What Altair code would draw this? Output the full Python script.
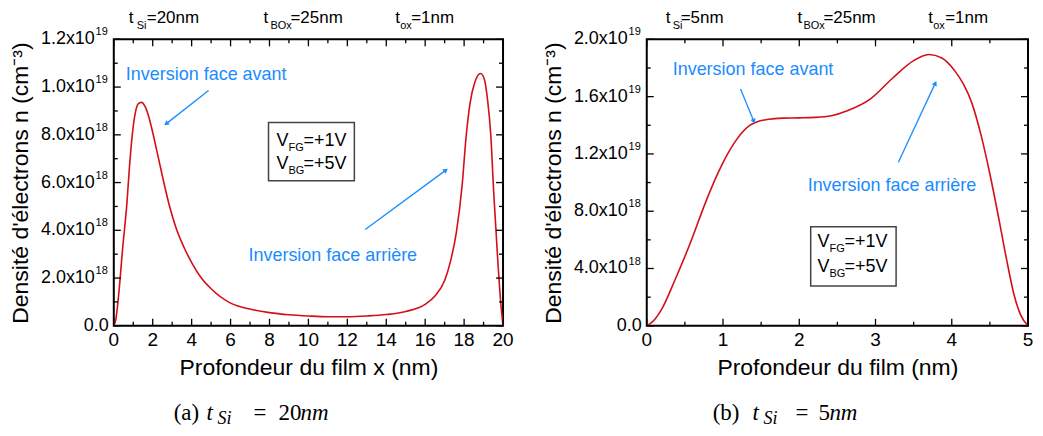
import altair as alt
import pandas as pd

# ---------------- data (n in units of 1e18 cm^-3) ----------------
# Panel (a): t_Si = 20 nm
x_a = [0, 0.1, 0.25, 0.45, 0.68, 0.8, 0.95, 1.1, 1.25, 1.42, 1.6, 1.8, 2.0, 2.3, 2.6,
       2.9, 3.2, 3.6, 4.0, 4.5, 5.0, 6.0, 7.0, 8.0, 9.0, 10.0, 11.0, 12.0, 13.0, 14.0,
       15.0, 16.0, 16.5, 17.0, 17.3, 17.6, 17.9, 18.1, 18.3, 18.55, 18.85, 19.05,
       19.2, 19.37, 19.52, 19.74, 19.9, 20]
n_a = [0, 0.25, 1.3, 3.2, 5.2, 6.6, 8.0, 8.9, 9.3, 9.36, 9.2, 8.75, 8.1, 7.0, 5.9,
       4.9, 4.1, 3.3, 2.65, 2.0, 1.55, 0.95, 0.7, 0.55, 0.46, 0.41, 0.38, 0.38, 0.41, 0.47,
       0.6, 0.9, 1.25, 1.9, 2.7, 3.9, 5.9, 7.9, 9.3, 10.2, 10.57, 10.3,
       9.5, 8.0, 5.6, 2.6, 0.8, 0]

# Panel (b): t_Si = 5 nm
x_b = [0, 0.07, 0.2, 0.37, 0.58, 0.77, 0.92, 1.05, 1.14, 1.25, 1.35, 1.45, 1.6, 1.78,
       2.0, 2.2, 2.42, 2.63, 2.93, 3.23, 3.49, 3.70, 3.87, 4.04, 4.15, 4.26, 4.38, 4.5,
       4.62, 4.72, 4.82, 4.9, 5.0]
n_b = [0, 0.25, 1.2, 3.2, 5.9, 8.6, 10.5, 11.9, 12.7, 13.5, 14.0, 14.25, 14.42, 14.5,
       14.52, 14.55, 14.67, 15.02, 15.83, 17.32, 18.48, 18.94, 18.7, 17.8, 16.9, 15.6,
       13.4, 10.6, 7.4, 4.6, 2.1, 0.8, 0]

# ticks and tick labels
xt_major_a = [0, 2, 4, 6, 8, 10, 12, 14, 16, 18, 20]
xlab_a = ["0", "2", "4", "6", "8", "10", "12", "14", "16", "18", "20"]
xt_minor_a = [1, 3, 5, 7, 9, 11, 13, 15, 17, 19]
yt_major_a = [0, 2, 4, 6, 8, 10, 12]
yt_minor_a = [1, 3, 5, 7, 9, 11]
ylab_main_a = ["0.0", "2.0x10", "4.0x10", "6.0x10", "8.0x10", "1.0x10", "1.2x10"]
ylab_exp_a = ["", "18", "18", "18", "18", "19", "19"]

xt_major_b = [0, 1, 2, 3, 4, 5]
xlab_b = ["0", "1", "2", "3", "4", "5"]
xt_minor_b = [0.5, 1.5, 2.5, 3.5, 4.5]
yt_major_b = [0, 4, 8, 12, 16, 20]
yt_minor_b = [2, 6, 10, 14, 18]
ylab_main_b = ["0.0", "4.0x10", "8.0x10", "1.2x10", "1.6x10", "2.0x10"]
ylab_exp_b = ["", "18", "18", "19", "19", "19"]

# ---------------- styling ----------------
FONT = "Liberation Sans"
SERIF = "Liberation Serif"
RED = "#d40f1a"
BLUE = "#1a8cff"
DUMMY = pd.DataFrame({"d": [0]})
H = 287


def txt(x, y, s, size, dx=0, dy=0, color="black", font=FONT, style="normal",
        align="left", baseline="alphabetic"):
    return alt.Chart(DUMMY).mark_text(
        text=s, fontSize=size, dx=dx, dy=dy, color=color, font=font,
        fontStyle=style, align=align, baseline=baseline
    ).encode(x=x, y=y)


def make_axes(xtitle):
    ax = alt.Axis(labels=False, ticks=False, tickSize=0, domain=False, grid=False,
                  title=xtitle, titleFontSize=23, titleFont=FONT,
                  titleFontWeight="normal", titleColor="black", titlePadding=31)
    ay = alt.Axis(labels=False, ticks=False, tickSize=0, domain=False, grid=False,
                  title="Densité d'électrons n (cm⁻³)", titleFontSize=23,
                  titleFont=FONT, titleFontWeight="normal", titleColor="black",
                  titlePadding=81)
    return ax, ay


def ticks(xmaj, xmin, ymaj, ymin, W, ax, ay):
    layers = []
    for vals, L in ((xmaj, 7), (xmin, 4)):
        c = alt.Chart(pd.DataFrame({"x": vals})).mark_rule(color="black", strokeWidth=1.3)
        layers.append(c.encode(x=alt.X("x:Q", axis=ax), y=alt.value(H), y2=alt.value(H - L)))
        layers.append(c.encode(x=alt.X("x:Q", axis=ax), y=alt.value(0), y2=alt.value(L)))
    for vals, L in ((ymaj, 7), (ymin, 4)):
        c = alt.Chart(pd.DataFrame({"n": vals})).mark_rule(color="black", strokeWidth=1.3)
        layers.append(c.encode(y=alt.Y("n:Q", axis=ay), x=alt.value(0), x2=alt.value(L)))
        layers.append(c.encode(y=alt.Y("n:Q", axis=ay), x=alt.value(W), x2=alt.value(W - L)))
    return layers


def xlabels(xmaj, labs, ax):
    df = pd.DataFrame({"x": xmaj, "lab": labs})
    return [alt.Chart(df).mark_text(
        align="center", baseline="top", fontSize=19, font=FONT, color="black"
    ).encode(x=alt.X("x:Q", axis=ax), y=alt.value(H + 5), text="lab:N")]


def ylabels(ymaj, mains, exps, ay):
    df = pd.DataFrame({"n": ymaj, "main": mains, "exp": exps})
    base = alt.Chart(df)
    yy = alt.Y("n:Q", axis=ay)
    m = base.transform_filter("datum.exp != ''").mark_text(
        align="right", baseline="middle", fontSize=18, font=FONT, color="black"
    ).encode(y=yy, x=alt.value(-19), text="main:N")
    e = base.transform_filter("datum.exp != ''").mark_text(
        align="right", baseline="middle", fontSize=11, font=FONT, color="black", dy=-7
    ).encode(y=yy, x=alt.value(-6), text="exp:N")
    z = base.transform_filter("datum.exp == ''").mark_text(
        align="right", baseline="middle", fontSize=18, font=FONT, color="black"
    ).encode(y=yy, x=alt.value(-5), text="main:N")
    return [m, e, z]


def arrow(x1, y1, x2, y2, ang):
    r = alt.Chart(DUMMY).mark_rule(color=BLUE, strokeWidth=1.3).encode(
        x=alt.datum(x1), y=alt.datum(y1), x2=alt.datum(x2), y2=alt.datum(y2))
    p = alt.Chart(DUMMY).mark_point(shape="triangle", filled=True, size=30,
                                    angle=ang, color=BLUE, opacity=1).encode(
        x=alt.datum(x2), y=alt.datum(y2))
    return [r, p]


def vbox(x1, x2, ytop, ybot, xv, yl1, yl2):
    rect = alt.Chart(DUMMY).mark_rect(fill="white", stroke="#444444", strokeWidth=1.5).encode(
        x=alt.datum(x1), x2=alt.datum(x2), y=alt.datum(ytop), y2=alt.datum(ybot))
    out = [rect]
    for yl, sub, rest in ((yl1, "FG", "=+1V"), (yl2, "BG", "=+5V")):
        out.append(txt(alt.datum(xv), alt.datum(yl), "V", 18))
        out.append(txt(alt.datum(xv), alt.datum(yl), sub, 11, dx=12, dy=5))
        out.append(txt(alt.datum(xv), alt.datum(yl), rest, 18, dx=27))
    return out


def top_labels(pieces):
    out = []
    for (xt, sub, xs, rest, xr) in pieces:
        out.append(txt(alt.value(xt), alt.value(-16), "t", 17))
        out.append(txt(alt.value(xs), alt.value(-10), sub, 11))
        out.append(txt(alt.value(xr), alt.value(-16), rest, 17))
    return out


def caption(letter, xl, xt, xs, xe, num, xn, xm):
    y = H + 94
    return [
        txt(alt.value(xl), alt.value(y), letter, 23, font=SERIF),
        txt(alt.value(xt), alt.value(y), "t", 23, font=SERIF, style="italic"),
        txt(alt.value(xs), alt.value(y + 4), "Si", 18, font=SERIF, style="italic"),
        txt(alt.value(xe), alt.value(y), "=", 23, font=SERIF),
        txt(alt.value(xn), alt.value(y), num, 23, font=SERIF),
        txt(alt.value(xm), alt.value(y), "nm", 23, font=SERIF, style="italic"),
    ]


def panel(xs, ns, xdom, ydom, W, xmaj, xlabs, xmin, ymaj, ymin, mains, exps, xtitle, extra):
    ax, ay = make_axes(xtitle)
    df = pd.DataFrame({"x": xs, "n": ns})
    curve = alt.Chart(df).mark_line(color=RED, strokeWidth=1.6, interpolate="monotone").encode(
        x=alt.X("x:Q", scale=alt.Scale(domain=xdom, nice=False, zero=False), axis=ax),
        y=alt.Y("n:Q", scale=alt.Scale(domain=ydom, nice=False), axis=ay),
    )
    layers = ([curve] + ticks(xmaj, xmin, ymaj, ymin, W, ax, ay)
              + xlabels(xmaj, xlabs, ax) + ylabels(ymaj, mains, exps, ay) + extra)
    return alt.layer(*layers).properties(width=W, height=H)


extra_a = (
    vbox(7.95, 12.36, 8.52, 6.08, 8.36, 7.55, 6.55)
    + [txt(alt.datum(0.62), alt.datum(10.28), "Inversion face avant", 18, color=BLUE),
       txt(alt.datum(6.92), alt.datum(2.73), "Inversion face arrière", 18, color=BLUE)]
    + arrow(4.87, 9.86, 2.72, 8.48, 231.8)
    + arrow(12.92, 4.03, 17.03, 6.50, 53.6)
    + top_labels([(15, "Si", 23, "=20nm", 33), (150, "BOx", 157, "=25nm", 177),
                  (282, "ox", 287, "=1nm", 298)])
    + caption("(a)", 60, 93, 104, 140, "20", 165, 187)
)

extra_b = (
    vbox(2.15, 3.27, 6.92, 2.77, 2.24, 5.47, 3.74)
    + [txt(alt.datum(0.34), alt.datum(17.51), "Inversion face avant", 18, color=BLUE),
       txt(alt.datum(2.11), alt.datum(9.41), "Inversion face arrière", 18, color=BLUE)]
    + arrow(1.23, 16.54, 1.40, 14.33, 157.9)
    + arrow(3.30, 11.42, 3.78, 16.89, 25.1)
    + top_labels([(19, "Si", 26, "=5nm", 34), (151, "BOx", 157, "=25nm", 177),
                  (282, "ox", 287, "=1nm", 299)])
    + caption("(b)", 66, 106, 117, 149, "5", 172, 183)
)

pa = panel(x_a, n_a, [0, 20], [0, 12], 390, xt_major_a, xlab_a, xt_minor_a, yt_major_a,
           yt_minor_a, ylab_main_a, ylab_exp_a, "Profondeur du film x (nm)", extra_a)
pb = panel(x_b, n_b, [0, 5], [0, 20], 382, xt_major_b, xlab_b, xt_minor_b, yt_major_b,
           yt_minor_b, ylab_main_b, ylab_exp_b, "Profondeur du film (nm)", extra_b)

chart = (
    alt.hconcat(pa, pb, spacing=26)
    .properties(padding={"left": 0, "top": 0, "right": 0, "bottom": 0})
    .configure(font=FONT, background="white")
    .configure_view(stroke="black", strokeWidth=2)
)

chart.save("out.html", embed_options={"renderer": "svg", "actions": False})
